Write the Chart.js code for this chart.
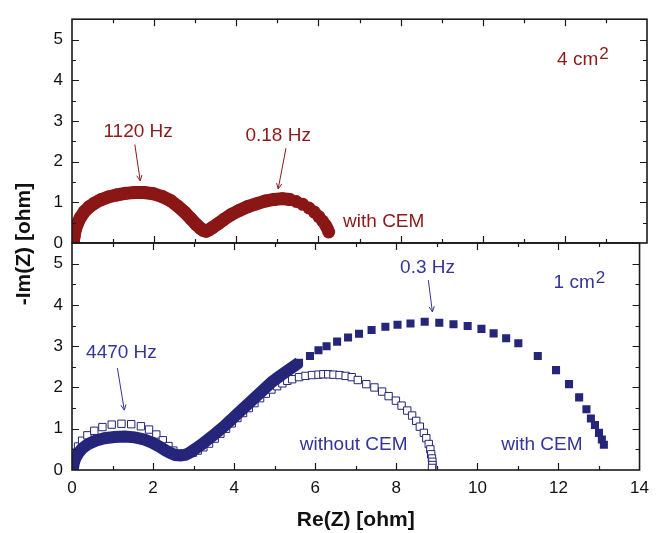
<!DOCTYPE html>
<html>
<head>
<meta charset="utf-8">
<script src="https://cdn.jsdelivr.net/npm/chart.js@4.4.1/dist/chart.umd.min.js"></script>
<style>
    html, body { margin: 0; padding: 0; background: #fff; }
    #wrap { position: relative; width: 657px; height: 533px; }
    #wrap canvas { position: absolute; left: 0; top: 0; }
</style>
</head>
<body>
<div id="wrap">
    <canvas id="topChart" width="657" height="533"></canvas>
    <canvas id="bottomChart" width="657" height="533"></canvas>
</div>
<script>
// tick labels
const reTicks = [0, 2, 4, 6, 8, 10, 12, 14];
const imTicks = [0, 1, 2, 3, 4, 5];

// 4 cm2, with CEM (top panel)
const cem4Re = [0.03, 0.05, 0.08, 0.13, 0.2, 0.3, 0.42, 0.55, 0.7, 0.88, 1.08, 1.3, 1.52, 1.75, 1.98,
    2.2, 2.4, 2.58, 2.75, 2.9, 3.03, 3.13, 3.2, 3.26, 3.33, 3.42, 3.55, 3.7, 3.88, 4.07,
    4.27, 4.48, 4.7, 4.92, 5.12, 5.3, 5.46, 5.62, 5.77, 5.9, 6.01, 6.1, 6.17, 6.22, 6.25];
const cem4Im = [0.02, 0.16, 0.32, 0.47, 0.62, 0.77, 0.89, 0.98, 1.06, 1.13, 1.18, 1.22, 1.24, 1.24, 1.21,
    1.14, 1.04, 0.9, 0.75, 0.59, 0.45, 0.36, 0.31, 0.29, 0.32, 0.38, 0.47, 0.58, 0.7, 0.8,
    0.89, 0.96, 1.03, 1.07, 1.09, 1.07, 1.02, 0.95, 0.86, 0.76, 0.65, 0.54, 0.44, 0.35, 0.27];

// 1 cm2, with CEM (bottom panel, filled squares)
const cem1Re = [0.02, 0.04, 0.08, 0.15, 0.25, 0.4, 0.58, 0.8, 1.05, 1.3, 1.55, 1.78, 1.98, 2.15, 2.3,
    2.43, 2.55, 2.68, 2.8, 2.92, 3.05, 3.2, 3.38, 3.56, 3.73, 3.92, 4.1, 4.3, 4.5, 4.72,
    4.94, 5.16, 5.38, 5.6, 5.87, 6.08, 6.28, 6.54, 6.81, 7.08, 7.39, 7.73, 8.03, 8.35, 8.7,
    9.06, 9.41, 9.76, 10.1, 10.4, 10.71, 11.01, 11.49, 11.94, 12.26, 12.51, 12.69, 12.8, 12.9, 13.0,
    13.07, 13.12];
const cem1Im = [0.02, 0.15, 0.28, 0.4, 0.52, 0.63, 0.71, 0.77, 0.8, 0.81, 0.79, 0.74, 0.66, 0.57, 0.48,
    0.41, 0.36, 0.35, 0.37, 0.43, 0.52, 0.62, 0.76, 0.9, 1.04, 1.21, 1.38, 1.56, 1.74, 1.94,
    2.14, 2.3, 2.45, 2.6, 2.76, 2.9, 3.0, 3.11, 3.21, 3.3, 3.39, 3.47, 3.52, 3.55, 3.59,
    3.57, 3.53, 3.49, 3.42, 3.31, 3.19, 3.07, 2.76, 2.42, 2.08, 1.76, 1.47, 1.25, 1.09, 0.9,
    0.74, 0.61];

// 1 cm2, without CEM (bottom panel, open squares)
const noCem1Re = [0.02, 0.04, 0.08, 0.15, 0.25, 0.38, 0.55, 0.75, 0.98, 1.22, 1.46, 1.7, 1.9, 2.08, 2.24,
    2.38, 2.5, 2.62, 2.74, 2.86, 2.98, 3.1, 3.24, 3.38, 3.52, 3.66, 3.8, 3.94, 4.08, 4.22,
    4.36, 4.5, 4.64, 4.78, 4.92, 5.06, 5.19, 5.31, 5.43, 5.6, 5.76, 5.92, 6.08, 6.2, 6.32,
    6.45, 6.6, 6.75, 6.9, 7.05, 7.26, 7.46, 7.65, 7.81, 7.99, 8.13, 8.27, 8.39, 8.49, 8.58,
    8.68, 8.74, 8.8, 8.84, 8.86, 8.88, 8.89, 8.89, 8.88];
const noCem1Im = [0.05, 0.25, 0.42, 0.57, 0.71, 0.84, 0.95, 1.04, 1.1, 1.12, 1.11, 1.06, 0.98, 0.86, 0.72,
    0.58, 0.47, 0.4, 0.38, 0.39, 0.42, 0.47, 0.55, 0.64, 0.76, 0.88, 1.0, 1.13, 1.26, 1.38,
    1.5, 1.62, 1.74, 1.85, 1.95, 2.03, 2.1, 2.16, 2.2, 2.25, 2.28, 2.3, 2.31, 2.32, 2.32,
    2.31, 2.3, 2.28, 2.25, 2.18, 2.08, 2.0, 1.9, 1.79, 1.68, 1.56, 1.44, 1.32, 1.19, 1.05,
    0.9, 0.77, 0.63, 0.5, 0.38, 0.28, 0.2, 0.12, 0.05];

const RED = '#8a1616';
const BLUE = '#25257a';
const RED_TEXT = '#8b1a1a';
const BLUE_TEXT = '#34349a';
const FONT = '"Liberation Sans", Arial, sans-serif';

const topNotes = [
    { text: '1120 Hz', x: 1.61, y: 2.74, align: 'center', arrow: [1.53, 2.42, 1.66, 1.53] },
    { text: '0.18 Hz', x: 5.02, y: 2.64, align: 'center', arrow: [5.21, 2.33, 5.02, 1.33] },
    { text: 'with CEM', x: 6.6, y: 0.53, align: 'left' },
    { text: '4 cm', sup: '2', x: 11.81, y: 4.51, align: 'left' }
];
const bottomNotes = [
    { text: '4470 Hz', x: 1.22, y: 2.83, align: 'center', arrow: [1.12, 2.47, 1.29, 1.45] },
    { text: '0.3 Hz', x: 8.77, y: 4.89, align: 'center', arrow: [8.79, 4.6, 8.89, 3.83] },
    { text: '1 cm', sup: '2', x: 11.88, y: 4.53, align: 'left' },
    { text: 'without CEM', x: 5.62, y: 0.61, align: 'left' },
    { text: 'with CEM', x: 10.59, y: 0.61, align: 'left' }
];

function toPoints(re, im) {
    return re.map((v, i) => ({ x: v, y: im[i] }));
}

// only join the dense part of a series with a thick line
function lineUpTo(re, cut, color) {
    return { borderColor: ctx => re[ctx.p1DataIndex] > cut ? 'rgba(0,0,0,0)' : color };
}

const framePlugin = {
    id: 'frame',
    afterDatasetsDraw(chart) {
        const { ctx, chartArea: a, scales: { x, y } } = chart;
        ctx.save();
        ctx.strokeStyle = '#1a1a1a';
        ctx.lineWidth = 1.2;
        ctx.beginPath();
        for (let v = 1; v < 14; v++) {
            const px = Math.round(x.getPixelForValue(v)) + 0.5;
            const len = v % 2 === 0 ? 7 : 4;
            ctx.moveTo(px, a.top); ctx.lineTo(px, a.top + len);
            ctx.moveTo(px, a.bottom); ctx.lineTo(px, a.bottom - len);
        }
        for (let v = 0.5; v < 5.5; v += 0.5) {
            const py = Math.round(y.getPixelForValue(v)) + 0.5;
            const len = v % 1 === 0 ? 7 : 4;
            ctx.moveTo(a.left, py); ctx.lineTo(a.left + len, py);
            ctx.moveTo(a.right, py); ctx.lineTo(a.right - len, py);
        }
        ctx.stroke();
        ctx.lineWidth = 1.6;
        ctx.strokeRect(a.left, a.top, a.right - a.left, a.bottom - a.top);
        ctx.restore();
    }
};

function notesPlugin(notes, color) {
    return {
        id: 'notes',
        afterDraw(chart) {
            const { ctx, scales: { x, y } } = chart;
            ctx.save();
            ctx.fillStyle = color;
            ctx.strokeStyle = color;
            ctx.lineWidth = 1;
            ctx.textBaseline = 'middle';
            notes.forEach(n => {
                const px = x.getPixelForValue(n.x);
                const py = y.getPixelForValue(n.y);
                ctx.font = '19px ' + FONT;
                ctx.textAlign = n.align;
                ctx.fillText(n.text, px, py);
                if (n.sup) {
                    const w = ctx.measureText(n.text).width;
                    ctx.font = '17px ' + FONT;
                    ctx.textAlign = 'left';
                    ctx.fillText(n.sup, px + w + 1, py - 5);
                }
                if (n.arrow) {
                    const x1 = x.getPixelForValue(n.arrow[0]), y1 = y.getPixelForValue(n.arrow[1]);
                    const x2 = x.getPixelForValue(n.arrow[2]), y2 = y.getPixelForValue(n.arrow[3]);
                    const ang = Math.atan2(y2 - y1, x2 - x1);
                    ctx.beginPath();
                    ctx.moveTo(x1, y1); ctx.lineTo(x2, y2);
                    ctx.moveTo(x2 - 6 * Math.cos(ang - 0.45), y2 - 6 * Math.sin(ang - 0.45));
                    ctx.lineTo(x2, y2);
                    ctx.lineTo(x2 - 6 * Math.cos(ang + 0.45), y2 - 6 * Math.sin(ang + 0.45));
                    ctx.stroke();
                }
            });
            ctx.restore();
        }
    };
}

const yTitlePlugin = {
    id: 'yTitle',
    afterDraw(chart) {
        const ctx = chart.ctx;
        ctx.save();
        ctx.translate(24, 244);
        ctx.rotate(-Math.PI / 2);
        ctx.font = 'bold 21px ' + FONT;
        ctx.fillStyle = '#111';
        ctx.textAlign = 'center';
        ctx.textBaseline = 'middle';
        ctx.fillText('-Im(Z) [ohm]', 0, 0);
        ctx.restore();
    }
};

function yScale() {
    return {
        type: 'linear', min: 0, max: 5.5,
        afterBuildTicks: s => { s.ticks = imTicks.map(v => ({ value: v })); },
        afterFit: s => { s.width = 72; },
        grid: { display: false, drawTicks: false },
        border: { display: false },
        ticks: { padding: 9, color: '#111', font: { family: FONT, size: 17 } }
    };
}

const base = {
    responsive: false,
    animation: false,
    events: [],
    plugins: { legend: { display: false }, tooltip: { enabled: false } }
};

new Chart(document.getElementById('topChart'), {
    type: 'scatter',
    data: {
        datasets: [{
            data: toPoints(cem4Re, cem4Im),
            showLine: true,
            borderWidth: 13,
            borderCapStyle: 'round',
            borderJoinStyle: 'round',
            borderColor: RED,
            segment: lineUpTo(cem4Re, 5.3, RED),
            pointStyle: 'circle',
            pointRadius: 6.5,
            pointBorderWidth: 0,
            pointBackgroundColor: RED,
            clip: 0
        }]
    },
    options: Object.assign({}, base, {
        layout: { padding: { top: 16, right: 10, left: 0, bottom: 0 } },
        scales: {
            x: {
                type: 'linear', min: 0, max: 14,
                afterFit: s => { s.height = 290; },
                grid: { display: false },
                border: { display: false },
                ticks: { display: false }
            },
            y: yScale()
        }
    }),
    plugins: [framePlugin, notesPlugin(topNotes, RED_TEXT)]
});

new Chart(document.getElementById('bottomChart'), {
    type: 'scatter',
    data: {
        datasets: [{
            data: toPoints(cem1Re, cem1Im),
            order: 1,
            showLine: true,
            borderWidth: 12,
            borderJoinStyle: 'miter',
            borderColor: BLUE,
            segment: lineUpTo(cem1Re, 5.65, BLUE),
            pointStyle: 'rect',
            pointRadius: 5.7,
            pointBorderWidth: 0,
            pointBackgroundColor: BLUE,
            clip: 0
        }, {
            data: toPoints(noCem1Re, noCem1Im),
            order: 2,
            showLine: false,
            pointStyle: 'rect',
            pointRadius: 5.2,
            pointBorderWidth: 1,
            pointBorderColor: BLUE,
            pointBackgroundColor: '#ffffff',
            clip: 0
        }]
    },
    options: Object.assign({}, base, {
        layout: { padding: { top: 243, right: 10, left: 0, bottom: 0 } },
        scales: {
            x: {
                type: 'linear', min: 0, max: 14,
                afterBuildTicks: s => { s.ticks = reTicks.map(v => ({ value: v })); },
                afterFit: s => { s.height = 63; },
                grid: { display: false, drawTicks: false },
                border: { display: false },
                ticks: { padding: 8, maxRotation: 0, color: '#111', font: { family: FONT, size: 17 } },
                title: {
                    display: true, text: 'Re(Z) [ohm]', color: '#111',
                    font: { family: FONT, size: 21, weight: 'bold' },
                    padding: { top: 4, bottom: 0 }
                }
            },
            y: yScale()
        }
    }),
    plugins: [framePlugin, notesPlugin(bottomNotes, BLUE_TEXT), yTitlePlugin]
});
</script>
</body>
</html>
